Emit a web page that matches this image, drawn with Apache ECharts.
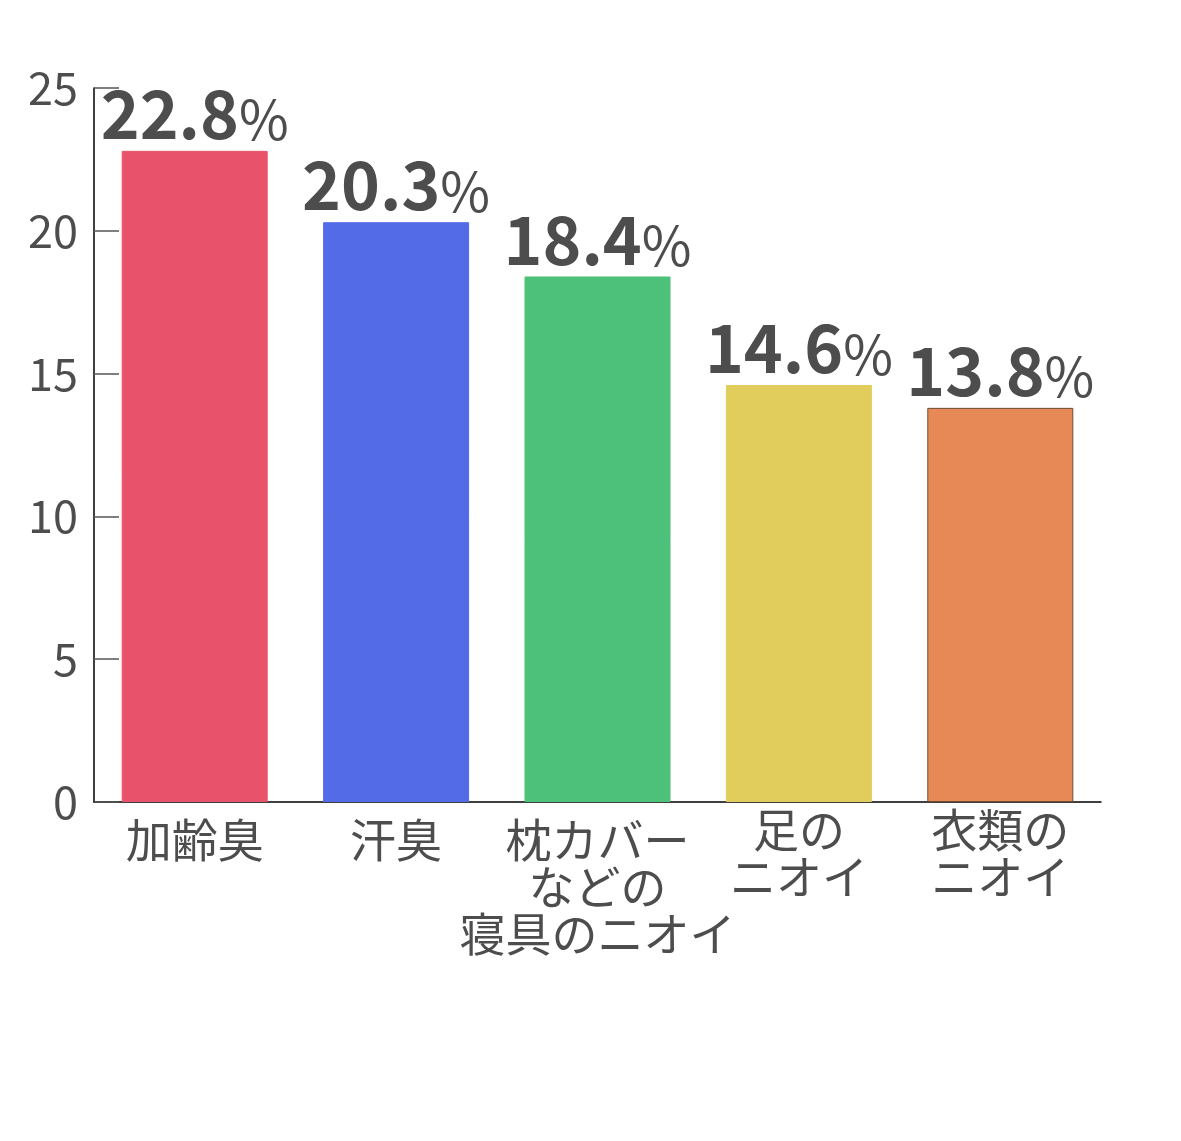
<!DOCTYPE html>
<html>
<head>
<meta charset="utf-8">
<script src="https://cdn.jsdelivr.net/npm/echarts@6/dist/echarts.min.js"></script>
<style>
html,body{margin:0;padding:0;background:#fff;}
#c{width:1181px;height:1141px;}
</style>
</head>
<body>
<div id="c"></div>
<script>
const categories = ['加齢臭', '汗臭', '枕カバー\nなどの\n寝具のニオイ', '足の\nニオイ', '衣類の\nニオイ'];
const values = [22.8, 20.3, 18.4, 14.6, 13.8];
const barColors = ['#E8536B', '#546BE8', '#4DC17A', '#E0CD5C', '#E78957'];
const barBorders = ['#E8536B', '#546BE8', '#4DC17A', '#E0CD5C', '#6E4A33'];
const yTicks = [0, 5, 10, 15, 20, 25];

const FONT = '"Noto Sans CJK JP", "Noto Sans", sans-serif';
const TXT = '#4d4d4d';

const chart = echarts.init(document.getElementById('c'), null, {renderer: 'canvas'});
chart.setOption({
  animation: false,
  backgroundColor: '#fff',
  grid: {left: 94, right: 80, top: 88, bottom: 339, containLabel: false},
  xAxis: {
    type: 'category',
    data: categories,
    axisLine: {lineStyle: {color: '#000', width: 1.5}},
    axisTick: {inside: true, length: 18, lineStyle: {color: '#666', width: 1.5}, alignWithLabel: false},
    axisLabel: {
      interval: 0,
      margin: 4,
      formatter: v => {
        const lines = v.split('\n');
        const body = lines.map(l => '{a|' + l + '}').join('\n');
        return lines.length === 2 ? body : '{s| }\n' + body;
      },
      rich: {
        a: {fontFamily: FONT, fontSize: 46, lineHeight: 47, color: TXT},
        s: {fontSize: 1, lineHeight: 10}
      }
    }
  },
  yAxis: {
    type: 'value',
    min: yTicks[0],
    max: yTicks[yTicks.length - 1],
    interval: 5,
    splitLine: {show: false},
    axisLine: {show: true, lineStyle: {color: '#000', width: 1.5}},
    axisTick: {show: true, inside: true, length: 25, lineStyle: {color: '#555', width: 1.5}},
    axisLabel: {fontFamily: FONT, fontSize: 45, color: TXT, margin: 16}
  },
  series: [{
    type: 'bar',
    barWidth: 146,
    data: values.map((v, i) => ({
      value: v,
      itemStyle: {color: barColors[i], borderColor: barBorders[i], borderWidth: 1}
    })),
    label: {
      show: true,
      position: 'top',
      distance: 4,
      formatter: p => '{v|' + p.value.toFixed(1) + '}{p|%}',
      rich: {
        v: {fontFamily: FONT, fontSize: 66, fontWeight: 'bold', color: TXT, verticalAlign: 'bottom', lineHeight: 70},
        p: {fontFamily: FONT, fontSize: 54, fontWeight: 'normal', color: TXT, verticalAlign: 'bottom', lineHeight: 67}
      }
    }
  }]
});
</script>
</body>
</html>
